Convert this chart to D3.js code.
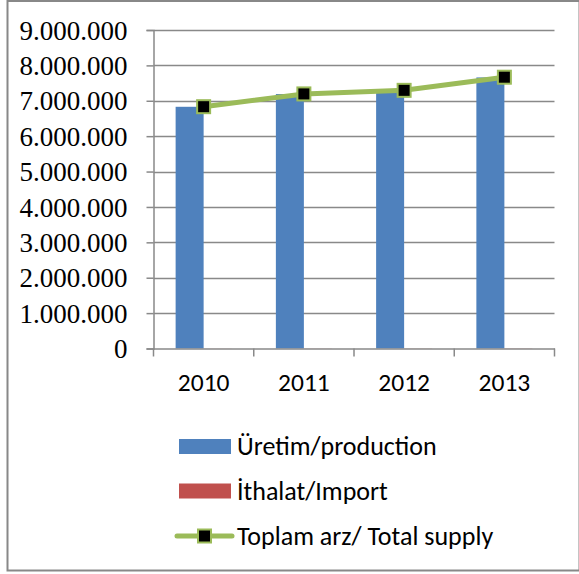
<!DOCTYPE html>
<html><head><meta charset="utf-8">
<script src="https://cdn.jsdelivr.net/npm/d3@7"></script>
<style>html,body{margin:0;padding:0;background:#fff;}svg{display:block;}</style>
</head><body>
<svg id="chart" width="579" height="574"></svg>
<script>
const years = ["2010", "2011", "2012", "2013"];
const production = [6830000, 7190000, 7290000, 7660000];
const imports = [3000, 4000, 5000, 6000];
const totalSupply = [6833000, 7194000, 7295000, 7666000];
const yTicks = [0, 1000000, 2000000, 3000000, 4000000, 5000000, 6000000, 7000000, 8000000, 9000000];
const seriesNames = ["Üretim/production", "İthalat/Import", "Toplam arz/ Total supply"];
const seriesColors = ["#4F81BD", "#C0504D", "#9BBB59"];

const serifFont = '"Liberation Serif", "Times New Roman", serif';
const sansFont = 'Carlito, Calibri, "Open Sans", sans-serif';

const svg = d3.select("#chart");
svg.append("rect").attr("x", 7.5).attr("y", 1).attr("width", 572).attr("height", 569.5)
  .attr("fill", "#fff").attr("stroke", "#888").attr("stroke-width", 2);

const pLeft = 153.5, pRight = 554.5, pTop = 30, pBottom = 348.5;
const x = d3.scaleBand().domain(years).range([pLeft, pRight]).paddingInner(0).paddingOuter(0);
const inner = d3.scaleBand().domain(["p", "i"]).range([0, x.bandwidth()]).paddingInner(0).paddingOuter(0.79);
const y = d3.scaleLinear().domain([0, 9000000]).range([pBottom, pTop]);
const fmt = v => d3.format(",")(v).replace(/,/g, ".");

// gridlines
svg.append("g").selectAll("line").data(yTicks.filter(d => d > 0)).join("line")
  .attr("x1", pLeft).attr("x2", pRight).attr("y1", d => Math.round(y(d)) + 0.5).attr("y2", d => Math.round(y(d)) + 0.5)
  .attr("stroke", "#898989").attr("stroke-width", 1.5);

// y axis
const yAxis = svg.append("g").attr("transform", `translate(${pLeft},0)`)
  .call(d3.axisLeft(y).tickValues(yTicks).tickFormat(fmt).tickSize(7).tickPadding(19));
yAxis.attr("font-family", "Liberation Serif").attr("font-size", 27);
yAxis.select(".domain").attr("stroke", "#898989").attr("stroke-width", 1.5);
yAxis.selectAll(".tick line").attr("stroke", "#898989").attr("stroke-width", 1.5);
yAxis.selectAll(".tick text").style("font-family", serifFont)
  .style("font-size", "27px").attr("fill", "#000").attr("dy", "0.34em");

// bars
const g = svg.append("g");
g.selectAll("rect.p").data(years).join("rect").attr("class", "p")
  .attr("x", (d) => x(d) + inner("p")).attr("width", inner.bandwidth())
  .attr("y", (d, i) => y(production[i])).attr("height", (d, i) => y(0) - y(production[i]))
  .attr("fill", seriesColors[0]);
g.selectAll("rect.i").data(years).join("rect").attr("class", "i")
  .attr("x", (d) => x(d) + inner("i")).attr("width", inner.bandwidth())
  .attr("y", (d, i) => y(imports[i])).attr("height", (d, i) => y(0) - y(imports[i]))
  .attr("fill", seriesColors[1]);

// x axis
const xAxis = svg.append("g").attr("transform", `translate(0,${pBottom})`)
  .call(d3.axisBottom(x).tickSize(0).tickPadding(24));
xAxis.select(".domain").attr("stroke", "#898989").attr("stroke-width", 1.5);
xAxis.selectAll(".tick text").style("font-family", sansFont)
  .style("font-size", "25.5px").attr("fill", "#000");
svg.append("g").selectAll("line").data(d3.range(years.length + 1)).join("line")
  .attr("x1", i => pLeft + i * x.bandwidth()).attr("x2", i => pLeft + i * x.bandwidth())
  .attr("y1", pBottom).attr("y2", pBottom + 8).attr("stroke", "#898989").attr("stroke-width", 1.5);

// total supply line
const cx = d => x(d) + x.bandwidth() / 2;
const line = d3.line().x((d, i) => cx(years[i])).y(d => y(d));
svg.append("path").datum(totalSupply).attr("d", line).attr("fill", "none")
  .attr("stroke", seriesColors[2]).attr("stroke-width", 5).attr("stroke-linejoin", "round");
svg.append("g").selectAll("rect").data(totalSupply).join("rect")
  .attr("x", (d, i) => cx(years[i]) - 6.5).attr("y", d => y(d) - 6.5)
  .attr("width", 13).attr("height", 13).attr("fill", "#000")
  .attr("stroke", seriesColors[2]).attr("stroke-width", 2);

// legend
const lg = svg.append("g").attr("fill", "#000");
const rowsY = [446.5, 491, 536];
lg.append("rect").attr("x", 179).attr("y", rowsY[0] - 7.5).attr("width", 52).attr("height", 15).attr("fill", seriesColors[0]);
lg.append("rect").attr("x", 179).attr("y", rowsY[1] - 7.5).attr("width", 52).attr("height", 15).attr("fill", seriesColors[1]);
lg.append("line").attr("x1", 177).attr("x2", 232).attr("y1", rowsY[2]).attr("y2", rowsY[2])
  .attr("stroke", seriesColors[2]).attr("stroke-width", 5).attr("stroke-linecap", "round");
lg.append("rect").attr("x", 198).attr("y", rowsY[2] - 6.5).attr("width", 13).attr("height", 13)
  .attr("fill", "#000").attr("stroke", seriesColors[2]).attr("stroke-width", 2);
lg.selectAll("text").data(seriesNames).join("text")
  .style("font-family", sansFont).style("font-size", "26px")
  .attr("x", 237).attr("y", (d, i) => rowsY[i]).attr("dy", "0.34em").text(d => d);
</script>
</body></html>
